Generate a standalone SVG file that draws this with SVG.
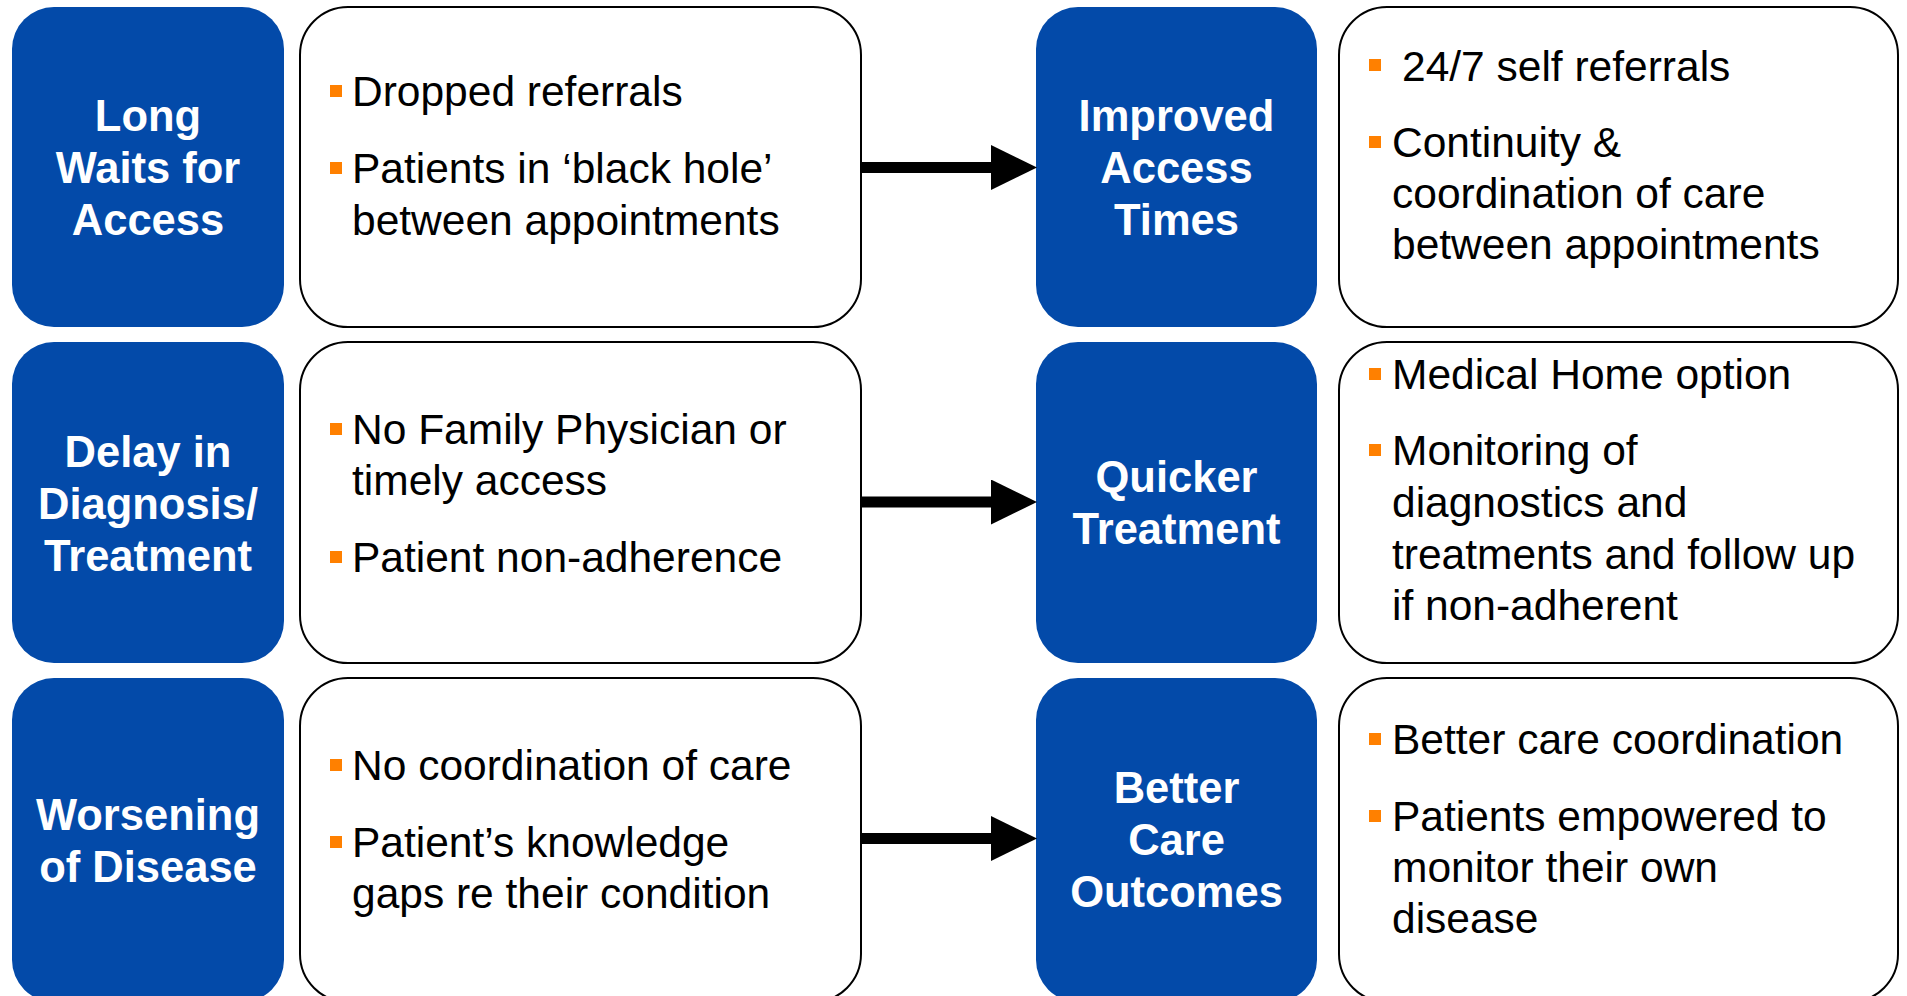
<svg xmlns="http://www.w3.org/2000/svg" width="1907" height="996" viewBox="0 0 1907 996">
  <defs>
    <marker id="head" markerUnits="userSpaceOnUse" markerWidth="46" markerHeight="46" refX="0" refY="22.5" orient="auto">
      <path d="M0,0 L46,22.5 L0,45 Z" fill="#000"/>
    </marker>
    <style>
      .hdr { fill: #034AA9; }
      .box { fill: #fff; stroke: #000; stroke-width: 2; }
      .ht { font-family: "Liberation Sans", Arial, sans-serif; font-weight: bold; font-size: 43.5px; fill: #fff; text-anchor: middle; }
      .bt { font-family: "Liberation Sans", Arial, sans-serif; font-size: 42.5px; fill: #000; }
      .bul { fill: #FF8000; }
      .conn { stroke: #000; stroke-width: 11; fill: none; marker-end: url(#head); }
    </style>
  </defs>
  <rect width="1907" height="996" fill="#fff"/>

  <!-- row 1 -->
  <g id="long-waits">
    <rect class="hdr" x="12" y="7" width="272" height="320" rx="42"/>
    <text class="ht" x="148" y="131">Long</text>
    <text class="ht" x="148" y="183">Waits for</text>
    <text class="ht" x="148" y="235">Access</text>
  </g>
  <g id="long-waits-causes">
    <rect class="box" x="300" y="7" width="561" height="320" rx="48"/>
    <rect class="bul" x="330" y="85" width="12" height="12"/>
    <text class="bt" x="352" y="106">Dropped referrals</text>
    <rect class="bul" x="330" y="162" width="12" height="12"/>
    <text class="bt" x="352" y="183">Patients in ‘black hole’</text>
    <text class="bt" x="352" y="235">between appointments</text>
  </g>
  <g id="improved-access">
    <rect class="hdr" x="1036" y="7" width="281" height="320" rx="42"/>
    <text class="ht" x="1176.5" y="131">Improved</text>
    <text class="ht" x="1176.5" y="183">Access</text>
    <text class="ht" x="1176.5" y="235">Times</text>
  </g>
  <g id="improved-access-means">
    <rect class="box" x="1339" y="7" width="559" height="320" rx="48"/>
    <rect class="bul" x="1369" y="59" width="12" height="12"/>
    <text class="bt" x="1402" y="81">24/7 self referrals</text>
    <rect class="bul" x="1369" y="136" width="12" height="12"/>
    <text class="bt" x="1392" y="157">Continuity &amp;</text>
    <text class="bt" x="1392" y="208">coordination of care</text>
    <text class="bt" x="1392" y="259">between appointments</text>
  </g>

  <!-- row 2 -->
  <g id="delay">
    <rect class="hdr" x="12" y="342" width="272" height="321" rx="42"/>
    <text class="ht" x="148" y="467">Delay in</text>
    <text class="ht" x="148" y="519">Diagnosis/</text>
    <text class="ht" x="148" y="571">Treatment</text>
  </g>
  <g id="delay-causes">
    <rect class="box" x="300" y="342" width="561" height="321" rx="48"/>
    <rect class="bul" x="330" y="423" width="12" height="12"/>
    <text class="bt" x="352" y="444">No Family Physician or</text>
    <text class="bt" x="352" y="495">timely access</text>
    <rect class="bul" x="330" y="551" width="12" height="12"/>
    <text class="bt" x="352" y="572">Patient non-adherence</text>
  </g>
  <g id="quicker-treatment">
    <rect class="hdr" x="1036" y="342" width="281" height="321" rx="42"/>
    <text class="ht" x="1176.5" y="492">Quicker</text>
    <text class="ht" x="1176.5" y="544">Treatment</text>
  </g>
  <g id="quicker-treatment-means">
    <rect class="box" x="1339" y="342" width="559" height="321" rx="48"/>
    <rect class="bul" x="1369" y="368" width="12" height="12"/>
    <text class="bt" x="1392" y="389">Medical Home option</text>
    <rect class="bul" x="1369" y="444" width="12" height="12"/>
    <text class="bt" x="1392" y="465">Monitoring of</text>
    <text class="bt" x="1392" y="517">diagnostics and</text>
    <text class="bt" x="1392" y="569">treatments and follow up</text>
    <text class="bt" x="1392" y="620">if non-adherent</text>
  </g>

  <!-- row 3 -->
  <g id="worsening">
    <rect class="hdr" x="12" y="678" width="272" height="324" rx="42"/>
    <text class="ht" x="148" y="830">Worsening</text>
    <text class="ht" x="148" y="882">of Disease</text>
  </g>
  <g id="worsening-causes">
    <rect class="box" x="300" y="678" width="561" height="324" rx="48"/>
    <rect class="bul" x="330" y="759" width="12" height="12"/>
    <text class="bt" x="352" y="780">No coordination of care</text>
    <rect class="bul" x="330" y="836" width="12" height="12"/>
    <text class="bt" x="352" y="857">Patient’s knowledge</text>
    <text class="bt" x="352" y="908">gaps re their condition</text>
  </g>
  <g id="better-outcomes">
    <rect class="hdr" x="1036" y="678" width="281" height="324" rx="42"/>
    <text class="ht" x="1176.5" y="803">Better</text>
    <text class="ht" x="1176.5" y="855">Care</text>
    <text class="ht" x="1176.5" y="907">Outcomes</text>
  </g>
  <g id="better-outcomes-means">
    <rect class="box" x="1339" y="678" width="559" height="324" rx="48"/>
    <rect class="bul" x="1369" y="733" width="12" height="12"/>
    <text class="bt" x="1392" y="754">Better care coordination</text>
    <rect class="bul" x="1369" y="810" width="12" height="12"/>
    <text class="bt" x="1392" y="831">Patients empowered to</text>
    <text class="bt" x="1392" y="882">monitor their own</text>
    <text class="bt" x="1392" y="933">disease</text>
  </g>

  <!-- connectors -->
  <g id="connectors">
    <line class="conn" x1="861" y1="167.5" x2="991" y2="167.5"/>
    <line class="conn" x1="861" y1="502" x2="991" y2="502"/>
    <line class="conn" x1="861" y1="838.5" x2="991" y2="838.5"/>
  </g>
</svg>
